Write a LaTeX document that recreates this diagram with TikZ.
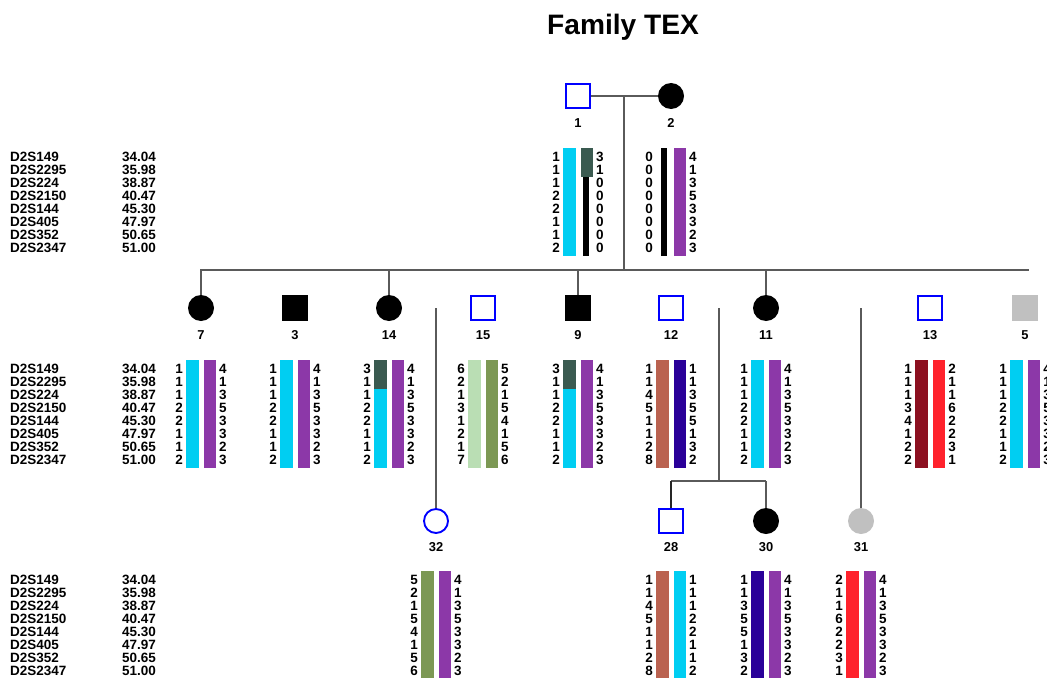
\documentclass[tikz,border=0pt]{standalone}
\usepackage{fontspec}
\setmainfont{Liberation Sans}
\usepackage{tikz}

\definecolor{hapcyan}{RGB}{0,206,242}
\definecolor{happurple}{RGB}{140,56,168}
\definecolor{hapteal}{RGB}{58,90,80}
\definecolor{hapbrown}{RGB}{186,98,80}
\definecolor{hapindigo}{RGB}{42,0,153}
\definecolor{haplight}{RGB}{186,222,180}
\definecolor{hapolive}{RGB}{124,152,84}
\definecolor{hapmaroon}{RGB}{140,16,32}
\definecolor{hapred}{RGB}{255,34,44}
\definecolor{unkgrey}{RGB}{192,192,192}
\definecolor{linegrey}{RGB}{90,90,90}

% marker names and positions, one block
\newcommand{\markers}[2]{%
  \foreach \m/\cm [count=\i from 0] in {D2S149/34.04,D2S2295/35.98,D2S224/38.87,D2S2150/40.47,D2S144/45.30,D2S405/47.97,D2S352/50.65,D2S2347/51.00}{
    \node[allele,anchor=west] (#1n\i) at (10,#2+13*\i) {\m};
    \node[allele,anchor=west] (#1p\i) at (122,#2+13*\i) {\cm};
  }}
% alleles left and right of the bars
\newcommand{\haplo}[5]{%
  \foreach \a [count=\i from 0] in {#4}
    \node[allele,anchor=east] (#1l\i) at (#2-18,#3+13*\i) {\a};
  \foreach \a [count=\i from 0] in {#5}
    \node[allele,anchor=west] (#1r\i) at (#2+18,#3+13*\i) {\a};}
\newcommand{\lbar}[3]{\fill[#3] (#1-15,#2-9) rectangle (#1-2.5,#2+99);}
\newcommand{\rbar}[3]{\fill[#3] (#1+2.5,#2-9) rectangle (#1+15,#2+99);}

\begin{document}
\begin{tikzpicture}[x=0.03cm,y=-0.03cm,
    allele/.style={font=\fontsize{11.5}{12}\selectfont\bfseries,inner sep=0},
    idlabel/.style={font=\fontsize{11}{12}\selectfont\bfseries,inner sep=0},
    link/.style={draw=linegrey,line width=2pt},
    sym/.style={inner sep=0,minimum size=0.78cm},
    malefree/.style={sym,rectangle,draw=blue,line width=1.6pt,minimum size=0.72cm},
    maleaff/.style={sym,rectangle,fill=black},
    maleunk/.style={sym,rectangle,fill=unkgrey},
    femfree/.style={sym,circle,draw=blue,line width=1.6pt,minimum size=0.72cm},
    femaff/.style={sym,circle,fill=black},
    femunk/.style={sym,circle,fill=unkgrey}]
    \useasboundingbox (0,0) rectangle (1047,677);
    \node[font=\fontsize{24}{28}\selectfont\bfseries] (title) at (623,27) {Family TEX};

    % generation I
    \node[malefree] (i1) at (578,96) {};
    \node[femaff] (i2) at (671,96) {};
    \node[idlabel] (n1) at (578,123) {1};
    \node[idlabel] (n2) at (671,123) {2};

    % generation II
    \node[femaff] (i7) at (201,308) {};
    \node[maleaff] (i3) at (295,308) {};
    \node[femaff] (i14) at (389,308) {};
    \node[malefree] (i15) at (483,308) {};
    \node[maleaff] (i9) at (578,308) {};
    \node[malefree] (i12) at (671,308) {};
    \node[femaff] (i11) at (766,308) {};
    \node[malefree] (i13) at (930,308) {};
    \node[maleunk] (i5) at (1025,308) {};
    \foreach \n/\x in {7/201,3/295,14/389,15/483,9/578,12/671,11/766,13/930,5/1025}
    \node[idlabel] (n\n) at (\x,335) {\n};

    % generation III
    \node[femfree] (i32) at (436,521) {};
    \node[malefree] (i28) at (671,521) {};
    \node[femaff] (i30) at (766,521) {};
    \node[femunk] (i31) at (861,521) {};
    \foreach \n/\x in {32/436,28/671,30/766,31/861}
    \node[idlabel] (n\n) at (\x,547) {\n};

    % lines of descent
    \coordinate (mate) at (624,96);
    \coordinate (sib) at (624,270);
    \coordinate (sibL) at (200,270);
    \coordinate (sibR) at (1029,270);
    \draw[link] (i1) -- (i2);
    \draw[link] (mate) -- (sib);
    \draw[link] (sibL) -- (sibR);
    \foreach \k in {i7,i14,i9,i11}
    \draw[link] (\k |- sib) -- (\k.north);
    \coordinate (d32) at (436,308);
    \draw[link] (d32) -- (i32.north);
    \coordinate (d12) at (719,308);
    \coordinate (s12) at (719,481);
    \draw[link] (d12) -- (s12);
    \draw[link] (i28 |- s12) -- (i30 |- s12);
    \draw[link,draw=black!85] (i28 |- s12) -- (i28.north);
    \draw[link] (i30 |- s12) -- (i30.north);
    \coordinate (d31) at (861,308);
    \draw[link] (d31) -- (i31.north);

    % marker columns
    \markers{a}{157}
    \markers{b}{369}
    \markers{c}{580}

    % haplotype bars, generation I
    \lbar{578}{157}{hapcyan}
    \fill[hapteal] (580.5,148) rectangle (593,177);
    \fill[black] (582.5,177) rectangle (588.5,256);
    \fill[black] (660.5,148) rectangle (666.5,256);
    \rbar{671}{157}{happurple}
    \haplo{h1}{578}{157}{1,1,1,2,2,1,1,2}{3,1,0,0,0,0,0,0}
    \haplo{h2}{671}{157}{0,0,0,0,0,0,0,0}{4,1,3,5,3,3,2,3}

    % haplotype bars, generation II
    \foreach \x in {201,295,389,578,766,1025}{
      \lbar{\x}{369}{hapcyan}
      \rbar{\x}{369}{happurple}}
    \foreach \x in {389,578}
    \fill[hapteal] (\x-15,360) rectangle (\x-2.5,389);
    \lbar{483}{369}{haplight}
    \rbar{483}{369}{hapolive}
    \lbar{671}{369}{hapbrown}
    \rbar{671}{369}{hapindigo}
    \lbar{930}{369}{hapmaroon}
    \rbar{930}{369}{hapred}
    \haplo{h7}{201}{369}{1,1,1,2,2,1,1,2}{4,1,3,5,3,3,2,3}
    \haplo{h3}{295}{369}{1,1,1,2,2,1,1,2}{4,1,3,5,3,3,2,3}
    \haplo{h14}{389}{369}{3,1,1,2,2,1,1,2}{4,1,3,5,3,3,2,3}
    \haplo{h15}{483}{369}{6,2,1,3,1,2,1,7}{5,2,1,5,4,1,5,6}
    \haplo{h9}{578}{369}{3,1,1,2,2,1,1,2}{4,1,3,5,3,3,2,3}
    \haplo{h12}{671}{369}{1,1,4,5,1,1,2,8}{1,1,3,5,5,1,3,2}
    \haplo{h11}{766}{369}{1,1,1,2,2,1,1,2}{4,1,3,5,3,3,2,3}
    \haplo{h13}{930}{369}{1,1,1,3,4,1,2,2}{2,1,1,6,2,2,3,1}
    \haplo{h5}{1025}{369}{1,1,1,2,2,1,1,2}{4,1,3,5,3,3,2,3}

    % haplotype bars, generation III
    \lbar{436}{580}{hapolive}
    \rbar{436}{580}{happurple}
    \lbar{671}{580}{hapbrown}
    \rbar{671}{580}{hapcyan}
    \lbar{766}{580}{hapindigo}
    \rbar{766}{580}{happurple}
    \lbar{861}{580}{hapred}
    \rbar{861}{580}{happurple}
    \haplo{h32}{436}{580}{5,2,1,5,4,1,5,6}{4,1,3,5,3,3,2,3}
    \haplo{h28}{671}{580}{1,1,4,5,1,1,2,8}{1,1,1,2,2,1,1,2}
    \haplo{h30}{766}{580}{1,1,3,5,5,1,3,2}{4,1,3,5,3,3,2,3}
    \haplo{h31}{861}{580}{2,1,1,6,2,2,3,1}{4,1,3,5,3,3,2,3}
\end{tikzpicture}
\end{document}
